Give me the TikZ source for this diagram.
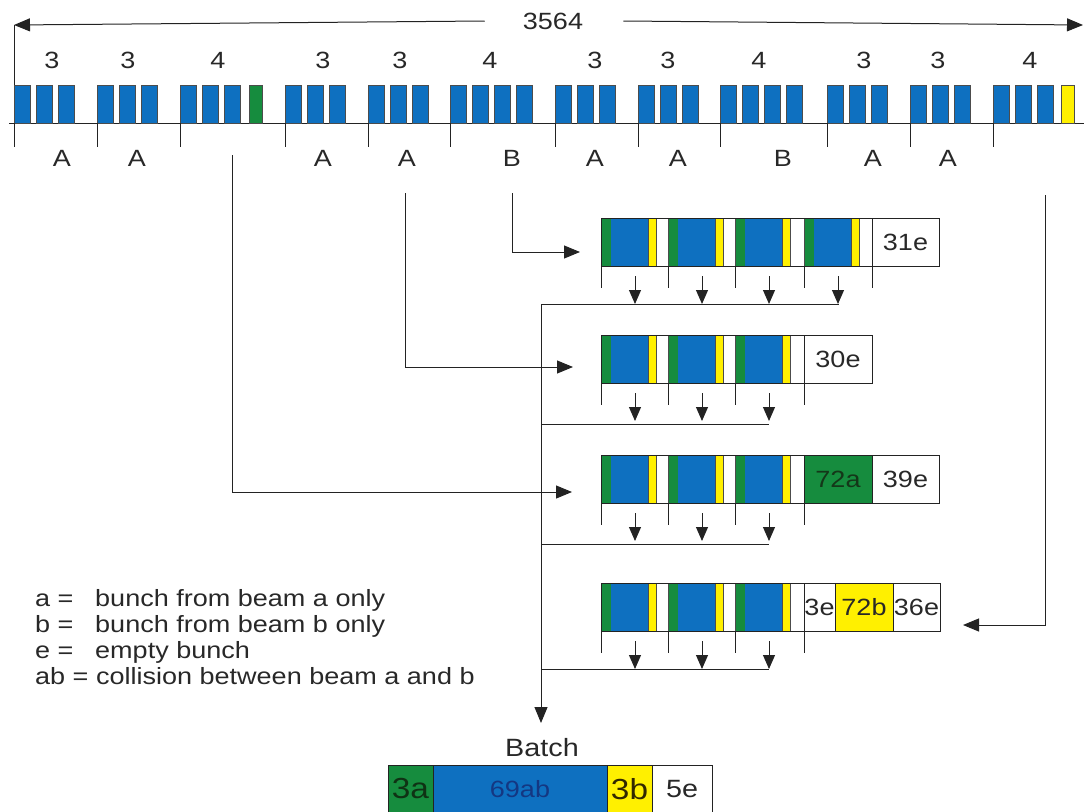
\documentclass[tikz,border=0pt]{standalone}
\usepackage{fontspec}
\setmainfont{Liberation Sans}[FakeStretch=1.15]
\usetikzlibrary{arrows.meta}
\definecolor{bblue}{RGB}{14,112,192}
\definecolor{bgreen}{RGB}{22,140,62}
\definecolor{byellow}{RGB}{255,240,0}
\definecolor{txt}{RGB}{40,40,40}
\definecolor{ln}{RGB}{35,35,35}
\tikzset{
  lbl/.style={font=\fontsize{23.5}{25}\selectfont, text=txt, inner sep=0pt},
  conn/.style={draw=ln, line width=1pt},
  arr/.style={conn, -{Triangle[length=16pt,width=13pt,fill=ln]}},
  darr/.style={conn, -{Triangle[length=14pt,width=12pt,fill=ln]}},
  bar/.style={draw=black!70, line width=0.6pt},
  cell/.style={lbl, draw=ln, line width=1pt, minimum height=48pt, anchor=north west, outer sep=0pt},
}
\newcommand{\trainunit}[2]{%
  \fill[bgreen] (#1,#2) rectangle +(10,48);
  \fill[bblue] ({#1+10},#2) rectangle +(37,48);
  \fill[byellow] ({#1+47},#2) rectangle +(8,48);
  \draw[bar] ({#1+47},#2) -- +(0,48) ({#1+55},#2) -- +(0,48);
  \draw[bar] (#1,#2) -- +(0,48);
  \draw[conn, line width=0.6pt] (#1,{#2+48}) -- +(0,22);
  \draw[darr] ({#1+34},{#2+58}) -- +(0,28);
}
\begin{document}
\begin{tikzpicture}[x=1pt,y=-1pt]
\useasboundingbox (0,0) rectangle (1084,811);
% ---------- top scale ----------
\coordinate (tl) at (14,25);
\coordinate (tr) at (1083,25);
\node[lbl] (total) at (553,21) {3564};
\draw[arr] ([xshift=-38pt]total.west) -- (tl);
\draw[arr] ([xshift=40pt]total.east) -- (tr);
\draw[conn] (14,25) -- (14,147);
\draw[conn] (9,123) -- (1084,123);
\foreach \gx/\n in {14/3, 97/3, 180/3, 285/3, 368/3, 450/4, 555/3, 638/3, 720/4, 827/3, 910/3, 993/3}{
  \foreach \i in {1,...,\n}{
    \filldraw[bar, fill=bblue] ({\gx+22*(\i-1)},85) rectangle +(16,38);
  }
  \draw[conn] (\gx,123) -- (\gx,147);
}
\filldraw[bar, fill=bgreen] (249,85) rectangle +(13,38);
\filldraw[bar, fill=byellow] (1061,85) rectangle +(13,38);
\foreach \lx/\t [count=\k] in {52/3, 128/3, 218/4, 323/3, 400/3, 490/4, 595/3, 668/3, 759/4, 864/3, 938/3, 1030/4}{
  \node[lbl] (n\k) at (\lx,60) {\t};
}
\foreach \lx/\t [count=\k] in {62/A, 137/A, 323/A, 407/A, 512/B, 595/A, 678/A, 783/B, 873/A, 948/A}{
  \node[lbl] (g\k) at (\lx,158) {\t};
}
% ---------- train rows ----------
% row 1
\foreach \ux in {601,668,735,804}{\trainunit{\ux}{218}}
\draw[conn] (601,218) rectangle (872,266);
\node[cell, minimum width=67pt] (r1e) at (872,218) {31e};
\draw[conn, line width=0.6pt] (872,266) -- (872,288);
% row 2
\foreach \ux in {601,668,735}{\trainunit{\ux}{335}}
\draw[conn] (601,335) rectangle (804,383);
\node[cell, minimum width=68pt] (r2e) at (804,335) {30e};
\draw[conn, line width=0.6pt] (804,383) -- (804,405);
% row 3
\foreach \ux in {601,668,735}{\trainunit{\ux}{455}}
\draw[conn] (601,455) rectangle (804,503);
\node[cell, minimum width=68pt, fill=bgreen, text={rgb,255:red,20;green,55;blue,25}] (r3a) at (804,455) {72a};
\node[cell, minimum width=67pt] (r3e) at (872,455) {39e};
\draw[conn, line width=0.6pt] (804,503) -- (804,525);
% row 4
\foreach \ux in {601,668,735}{\trainunit{\ux}{583}}
\draw[conn] (601,583) rectangle (804,631);
\node[cell, minimum width=31pt] (r4e1) at (804,583) {3e};
\node[cell, minimum width=58pt, fill=byellow] (r4b) at (835,583) {72b};
\node[cell, minimum width=47pt] (r4e2) at (893,583) {36e};
\draw[conn, line width=0.6pt] (804,631) -- (804,653);
% ---------- collectors ----------
\coordinate (c1) at (541,304);
\coordinate (c2) at (541,424);
\coordinate (c3) at (541,544);
\coordinate (c4) at (541,669);
\coordinate (cb) at (541,723);
\draw[conn] (c1) -- (839,304);
\draw[conn] (c2) -- (769,424);
\draw[conn] (c3) -- (769,544);
\draw[conn] (c4) -- (769,669);
\draw[arr] (c1) -- (cb);
% ---------- incoming ----------
\coordinate (sB) at (512,193);
\coordinate (in1) at (580,252);
\draw[arr] (sB) |- (in1);
\coordinate (sA) at (405,193);
\coordinate (in2) at (573,367);
\draw[arr] (sA) |- (in2);
\coordinate (s3) at (232,155);
\coordinate (in3) at (572,492);
\draw[arr] (s3) |- (in3);
\coordinate (s12) at (1045,195);
\coordinate (in4) at (963,625);
\draw[arr] (s12) |- (in4);
% ---------- legend ----------
\node[lbl, anchor=base west] (la1) at (35,606) {a =};
\node[lbl, anchor=base west] (lb1) at (95,606) {bunch from beam a only};
\node[lbl, anchor=base west] (la2) at (35,632) {b =};
\node[lbl, anchor=base west] (lb2) at (95,632) {bunch from beam b only};
\node[lbl, anchor=base west] (la3) at (35,658) {e =};
\node[lbl, anchor=base west] (lb3) at (95,658) {empty bunch};
\node[lbl, anchor=base west] (la4) at (35,684) {ab = collision between beam a and b};
% ---------- batch ----------
\node[lbl, font=\fontsize{25}{27}\selectfont] (batch) at (542,748) {Batch};
\node[cell, minimum width=45pt, fill=bgreen, font=\fontsize{29}{30}\selectfont, text={rgb,255:red,15;green,50;blue,20}] (b3a) at (388,765) {3a};
\node[cell, minimum width=174pt, fill=bblue, text={rgb,255:red,20;green,55;blue,130}] (b69) at (433,765) {69ab};
\node[cell, minimum width=45pt, fill=byellow, font=\fontsize{29}{30}\selectfont, text={rgb,255:red,50;green,40;blue,0}] (b3b) at (607,765) {3b};
\node[cell, minimum width=60pt, font=\fontsize{25}{27}\selectfont] (b5e) at (652,765) {5e};
\end{tikzpicture}
\end{document}
